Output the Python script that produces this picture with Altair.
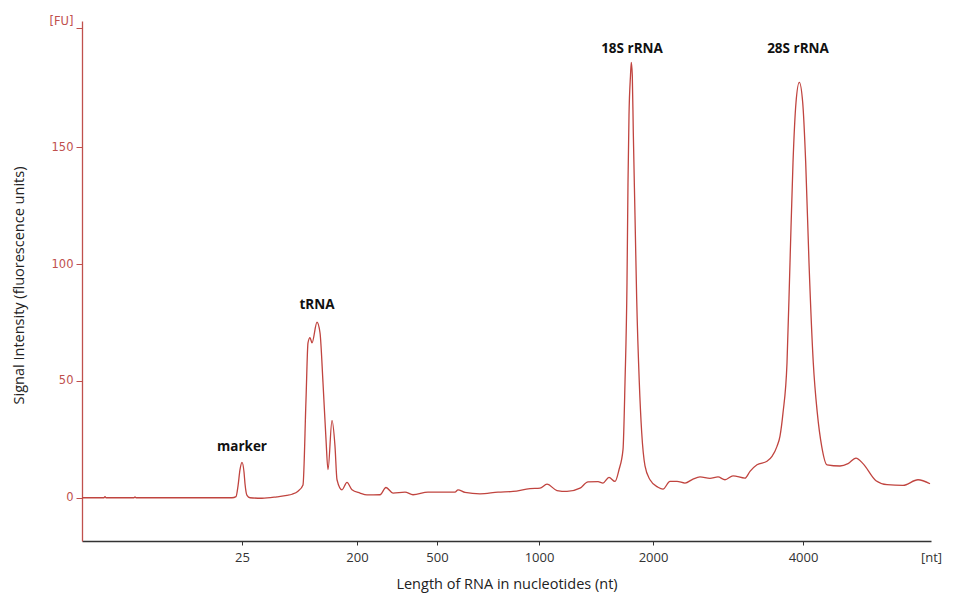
import altair as alt
import pandas as pd

# migration position (arbitrary units along the run) and signal (FU)
pos = [0, 22, 23, 24, 52, 53, 54, 150, 154, 156, 158, 160, 162, 163, 165, 168, 180, 195, 205, 210,
       216, 221, 224, 226, 228, 230, 235, 238, 241, 244, 246, 250, 253, 255, 260, 265, 270, 278, 285,
       298, 304, 311, 323, 331, 346, 373, 376, 383, 398, 416, 431, 448, 458, 465, 475, 485, 498, 506,
       516, 521, 527, 533, 537, 541, 543, 545, 546, 547, 548.5, 549.3, 550.3, 551.3, 553, 554.7, 557.3,
       559.7, 563, 568, 576, 581, 588, 595, 603, 611, 618, 628, 636, 643, 651, 663, 668, 675, 685, 690,
       695, 698, 701, 705, 708, 711, 714, 717.3, 720.7, 723.7, 727, 731.3, 735.3, 739.7, 745, 758, 766,
       774, 781, 794, 805, 821, 836, 848]
signal = [0, 0, 0.5, 0, 0, 0.4, 0, 0, 0.5, 5, 12, 15.1, 11, 6, 1, 0, -0.2, 0.4, 1.0, 1.5,
          2.8, 5.5, 42, 66.3, 68.5, 66.3, 75.1, 70.6, 49.2, 24.9, 12, 33.1, 22, 7.7, 3.4, 6.6, 3.4, 2, 1.2,
          1.3, 4.4, 2, 2.4, 1.3, 2.4, 2.4, 3.4, 2.3, 1.7, 2.4, 2.7, 3.9, 4.1, 5.8, 3.1, 2.7, 4.1, 6.8,
          6.9, 6.3, 8.7, 7, 12, 20.6, 49.3, 92.1, 135, 163.6, 180.7, 186.3, 180.7, 156.3, 120.7, 84.9, 49.3,
          27.9, 13.6, 7.7, 4.5, 3.7, 7, 7, 6.3, 8, 8.9, 8.3, 8.9, 7.7, 9.4, 8.4, 11.3, 14.1, 15.6, 17.7,
          22, 26.4, 36.3, 57.7, 100.6, 143.4, 169.1, 177.7, 169.1, 143.4, 100.6, 57.7, 36.3, 22, 14.1, 13.6, 14.6,
          17, 14.6, 7.3, 5.6, 5.3, 7.7, 6]

x_tick_pos = [160, 275, 355, 457, 571, 721, 849]
x_tick_labels = ["25", "200", "500", "1000", "2000", "4000", "[nt]"]
y_tick_vals = [0, 50, 100, 150, 201]
y_tick_labels = ["0", "50", "100", "150", "[FU]"]

peak_names = ["marker", "tRNA", "18S rRNA", "28S rRNA"]
peak_pos = [160, 235, 550, 716]
peak_label_fu = [19.8, 80.6, 190.5, 190.3]

RED = "#c0504d"
TRACE = "#c0443f"


def label_expr(vals, labels):
    expr = "''"
    for v, l in reversed(list(zip(vals, labels))):
        expr = f"datum.value == {v} ? '{l}' : ({expr})"
    return expr


trace_df = pd.DataFrame({"pos": pos, "fu": signal})
peaks_df = pd.DataFrame({"name": peak_names, "pos": peak_pos, "fu": peak_label_fu})

x_scale = alt.Scale(domain=[0, 849], nice=False, zero=False)
y_scale = alt.Scale(domain=[-18.5, 204], nice=False, zero=False)

x_axis = alt.Axis(
    values=x_tick_pos,
    labelExpr=label_expr(x_tick_pos, x_tick_labels),
    title="Length of RNA in nucleotides (nt)",
    titleFont="Open Sans", titleFontSize=14.5, titleFontWeight="normal", titleColor="#222222",
    titleY=36,
    labelFont="Open Sans", labelFontSize=13, labelColor="#333333",
    labelPadding=6, tickSize=4, tickColor="#333333",
    tickOpacity=alt.condition("datum.value == 849", alt.value(0), alt.value(1)),
    domainColor="#333333", domainWidth=1.3,
    grid=False, labelFlush=False, labelOverlap=False,
)
y_axis = alt.Axis(
    values=y_tick_vals,
    labelExpr=label_expr(y_tick_vals, y_tick_labels),
    title="Signal Intensity (fluorescence units)",
    titleFont="Open Sans", titleFontSize=14.5, titleFontWeight="normal", titleColor="#222222",
    titleX=-56, titleY=264,
    labelFont="DejaVu Sans", labelFontSize=11.5, labelColor=RED,
    labelPadding=3, tickSize=6, tickColor=RED,
    labelOffset=alt.condition("datum.value == 201", alt.value(-7), alt.value(0)),
    domainColor=RED, domainWidth=1.3,
    grid=False, labelFlush=False, labelOverlap=False,
)

line = alt.Chart(trace_df).mark_line(color=TRACE, strokeWidth=1.3, interpolate="monotone").encode(
    x=alt.X("pos:Q", scale=x_scale, axis=x_axis),
    y=alt.Y("fu:Q", scale=y_scale, axis=y_axis),
)

labels = alt.Chart(peaks_df).mark_text(
    font="Open Sans", fontSize=13.5, fontWeight="bold", color="#111111",
    baseline="alphabetic", align="center",
).encode(
    x=alt.X("pos:Q", scale=x_scale),
    y=alt.Y("fu:Q", scale=y_scale),
    text="name:N",
)

chart = alt.layer(line, labels).properties(
    width=849, height=520,
    autosize=alt.AutoSizeParams(type="none"),
    padding={"left": 82, "top": 21, "right": 32, "bottom": 55},
    background="white",
).configure_view(stroke=None)

chart.save("out.html", embed_options={"renderer": "svg", "actions": False})
